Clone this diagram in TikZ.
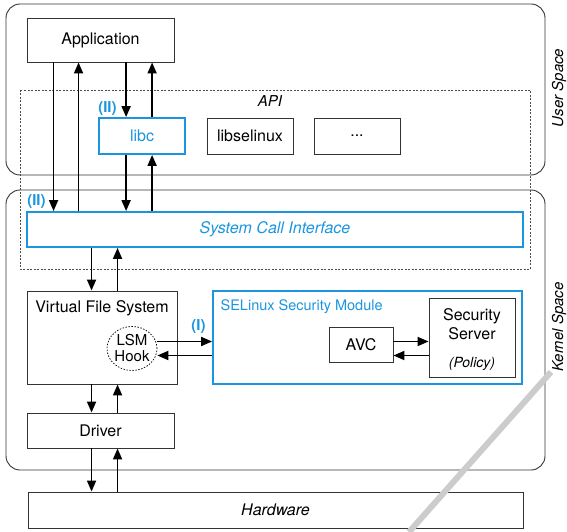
\documentclass[tikz,border=0pt]{standalone}
\usepackage{fontspec}
\setmainfont{TeX Gyre Heros}
\usetikzlibrary{arrows.meta,shadows,shapes.geometric}
\definecolor{selblue}{RGB}{27,150,222}
\tikzset{>={Triangle[length=11pt,width=9pt]}}

\begin{document}
\begin{tikzpicture}[x=1pt,y=-1pt,
    every node/.style={font=\fontsize{16}{19}\selectfont},
    box/.style={draw=black!80, fill=white, line width=0.9pt, inner sep=0pt,
        drop shadow={shadow xshift=1.2pt, shadow yshift=-1.2pt, opacity=0.35}},
    bluebox/.style={box, draw=selblue, line width=1.8pt, text=selblue},
    tag/.style={font=\fontsize{15}{18}\selectfont\bfseries, text=selblue, inner sep=1pt},
    flow/.style={->, line width=1.8pt}]
    \useasboundingbox (0,0) rectangle (567,532);
    % user and kernel space
    \draw[rounded corners=14pt, line width=0.9pt, draw=black!80] (6,4) rectangle (545,175);
    \draw[rounded corners=14pt, line width=0.9pt, draw=black!80] (6,190) rectangle (545,470);
    \draw[draw=black!70, line width=0.8pt, dash pattern=on 2pt off 1.5pt] (20,90) rectangle (530,269);
    \node[font=\fontsize{15}{17}\selectfont\itshape] (api) at (270,101) {API};
    \node[rotate=90, inner sep=0pt, font=\fontsize{15}{18}\selectfont\itshape] (user) at (559,88) {User Space};
    \node[rotate=90, inner sep=0pt, font=\fontsize{15}{18}\selectfont\itshape] (kernel) at (559,327) {Kernel Space};
    % boxes
    \node[box, minimum width=147pt, minimum height=44pt] (app) at (100.5,40) {Application};
    \node[bluebox, minimum width=86pt, minimum height=36pt] (libc) at (142,136) {libc};
    \node[box, minimum width=86pt, minimum height=36pt] (libsel) at (250,136) {libselinux};
    \node[box, minimum width=86pt, minimum height=36pt] (more) at (357,136) {...};
    \node[bluebox, minimum width=496pt, minimum height=35pt, font=\fontsize{16}{19}\selectfont\itshape] (sci) at (275,229.5) {System Call Interface};
    \node[box, minimum width=150pt, minimum height=93pt] (vfs) at (102,337.5) {};
    \node[anchor=north] (vfstext) at ([yshift=-6.5pt]vfs.north) {Virtual File System};
    \node[draw, ellipse, fill=white, line width=0.7pt, dash pattern=on 1.5pt off 1.5pt, minimum width=50pt, minimum height=44pt,
        inner sep=0pt, align=center, font=\fontsize{15}{16}\selectfont] (lsm) at (132,348.5) {LSM\\Hook};
    \node[bluebox, minimum width=309pt, minimum height=93pt] (sel) at (367.5,337.5) {};
    \node[anchor=north west, text=selblue, font=\fontsize{14.5}{17}\selectfont] (seltext) at ([xshift=5pt,yshift=-6pt]sel.north west) {SELinux Security Module};
    \node[box, minimum width=64pt, minimum height=35pt] (avc) at (361,344.5) {AVC};
    \node[box, minimum width=86pt, minimum height=79pt] (srv) at (472,337.5) {};
    \node[anchor=north, align=center] (srvtext) at ([yshift=-7.5pt]srv.north) {Security\\Server};
    \node[anchor=south, font=\fontsize{14}{16}\selectfont\itshape] (policy) at ([yshift=3.5pt]srv.south) {(Policy)};
    \node[box, minimum width=147pt, minimum height=35pt] (drv) at (100.5,430.5) {Driver};
    \node[box, minimum width=495pt, minimum height=36pt, font=\fontsize{16}{19}\selectfont\itshape] (hw) at (275.5,510) {Hardware};
    \node[tag, anchor=south west] (tlibc) at ([xshift=-1pt]libc.north west) {(II)};
    \node[tag, anchor=south west] (tsci) at ([yshift=1pt]sci.north west) {(II)};
    % calls
    \draw[flow] ([xshift=27pt]app.south west) -- ([xshift=27pt]app.south west |- sci.north);
    \draw[flow] ([xshift=52pt]app.south west |- sci.north) -- ([xshift=52pt]app.south west);
    \draw[flow] ([xshift=28pt]libc.north west |- app.south) -- ([xshift=28pt]libc.north west);
    \draw[flow] ([xshift=54pt]libc.north west) -- ([xshift=54pt]libc.north west |- app.south);
    \draw[flow] ([xshift=28pt]libc.south west) -- ([xshift=28pt]libc.south west |- sci.north);
    \draw[flow] ([xshift=54pt]libc.south west |- sci.north) -- ([xshift=54pt]libc.south west);
    \foreach \a/\b in {sci/vfs, vfs/drv, drv/hw} {
        \draw[flow] ([xshift=65pt]vfs.west |- \a.south) -- ([xshift=65pt]vfs.west |- \b.north);
        \draw[flow] ([xshift=91pt]vfs.west |- \b.north) -- ([xshift=91pt]vfs.west |- \a.south);
    }
    \draw[flow] ([yshift=7pt]lsm.east) -- ([yshift=7pt]lsm.east -| sel.west) node[tag, pos=0.75, above=6pt] (tone) {(I)};
    \draw[flow] ([yshift=-7pt]lsm.east -| sel.west) -- ([yshift=-7pt]lsm.east);
    \draw[flow] ([yshift=7pt]lsm.east -| avc.east) -- ([yshift=7pt]lsm.east -| srv.west);
    \draw[flow] ([yshift=-7pt]lsm.east -| srv.west) -- ([yshift=-7pt]lsm.east -| avc.east);
    \draw[gray!40, line width=6pt] (409,532) -- (551,372);
\end{tikzpicture}
\end{document}
